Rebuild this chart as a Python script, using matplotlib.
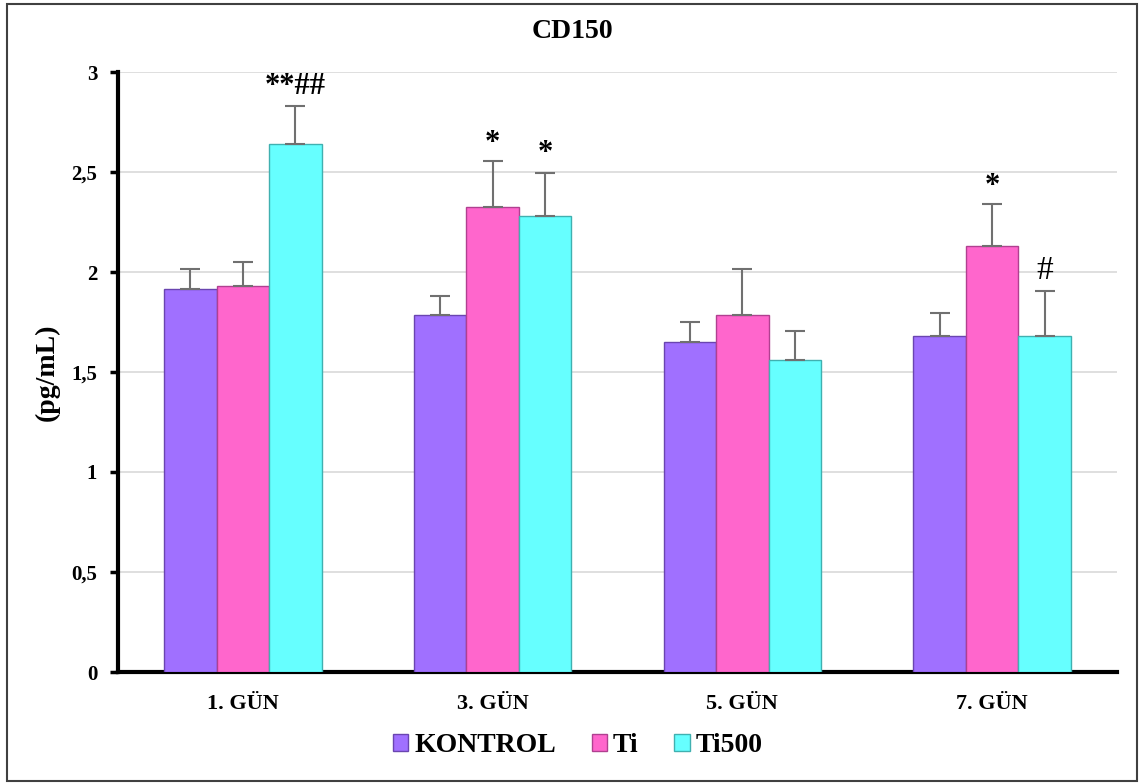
import matplotlib
matplotlib.use("Agg")
import matplotlib.pyplot as plt
import numpy as np
from matplotlib.patches import Rectangle

categories = ["1. GÜN", "3. GÜN", "5. GÜN", "7. GÜN"]
series = ["KONTROL", "Ti", "Ti500"]
kontrol = [1.915, 1.785, 1.65, 1.68]
ti = [1.93, 2.325, 1.785, 2.13]
ti500 = [2.64, 2.28, 1.56, 1.68]
kontrol_err = [0.10, 0.095, 0.10, 0.115]
ti_err = [0.12, 0.23, 0.23, 0.21]
ti500_err = [0.19, 0.215, 0.145, 0.225]
marks_ti = ["", "*", "", "*"]
marks_ti500 = ["**##", "*", "", "#"]

colors = ["#A070FF", "#FF66CC", "#66FFFF"]
edges = ["#6A45B0", "#B04090", "#40B0B0"]

plt.rcParams['font.family'] = ['Liberation Serif', 'DejaVu Serif']
fig = plt.figure(figsize=(11.44, 7.84), dpi=100)
ax = fig.add_axes([118/1144, 1-672/784, 999/1144, 600/784])

x = np.arange(len(categories))
w = 0.21
vals = [kontrol, ti, ti500]
errs = [kontrol_err, ti_err, ti500_err]
for i, (v, e) in enumerate(zip(vals, errs)):
    xs = x + (i - 1) * w
    ax.bar(xs, v, width=w, color=colors[i], edgecolor=edges[i], linewidth=1, label=series[i], zorder=3)
    ax.errorbar(xs, v, yerr=[np.zeros(len(e)), e], fmt='none', ecolor='#707070', elinewidth=1.5,
                capsize=7, capthick=1.5, zorder=4)

for j in range(len(categories)):
    if marks_ti[j]:
        ax.text(x[j], ti[j] + ti_err[j] + 0.015, marks_ti[j], ha='center', va='bottom',
                fontsize=22, fontweight='bold')
    if marks_ti500[j]:
        ax.text(x[j] + w, ti500[j] + ti500_err[j] + 0.025, marks_ti500[j], ha='center', va='bottom',
                fontsize=22 if '*' in marks_ti500[j] else 24,
                fontweight='bold' if '*' in marks_ti500[j] else 'normal')

ax.set_xlim(-0.5, 3.5)
ax.set_ylim(0, 3)
ax.set_yticks([0, 0.5, 1, 1.5, 2, 2.5, 3])
ax.set_yticklabels(["0", "0,5", "1", "1,5", "2", "2,5", "3"], fontsize=15, fontweight='bold')
ax.set_xticks(x)
ax.set_xticklabels(categories, fontsize=16, fontweight='bold')
ax.tick_params(axis='x', length=0, pad=16)
ax.tick_params(axis='y', length=6, width=2.5, pad=9)
ax.grid(axis='y', color='#D9D9D9', linewidth=1.2, zorder=0)
for s in ['top', 'right']:
    ax.spines[s].set_visible(False)
ax.spines['left'].set_linewidth(3)
ax.spines['bottom'].set_linewidth(3)
ax.spines['left'].set_capstyle('projecting')
ax.spines['bottom'].set_capstyle('projecting')
ax.set_ylabel("(pg/mL)", fontsize=20, fontweight='bold')
ax.yaxis.set_label_coords(-58/999, 0.5)
fig.text(0.5, 1-32/784, "CD150", ha='center', va='center', fontsize=20, fontweight='bold')

leg = fig.legend(loc='center', bbox_to_anchor=(0.505, 1-746/784), ncol=3, frameon=False,
                 prop={'size': 20, 'weight': 'bold'}, handlelength=0.55, handleheight=0.55,
                 handletextpad=0.2, columnspacing=1.3)

fig.patches.append(Rectangle((7/1144, 3/784), 1130/1144, 777/784, transform=fig.transFigure,
                             fill=False, edgecolor='#404040', linewidth=1.5))
fig.savefig("out.png", dpi=100)
